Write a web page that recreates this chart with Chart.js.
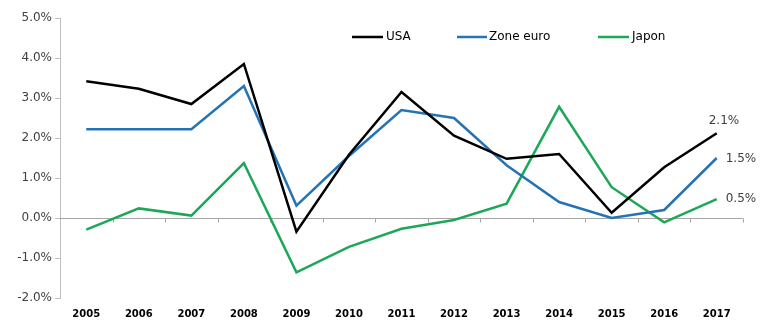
<!DOCTYPE html>
<html><head><meta charset="utf-8">
<script src="https://cdn.jsdelivr.net/npm/chart.js@4/dist/chart.umd.min.js"></script>
<style>html,body{margin:0;padding:0;background:#fff}#wrap{width:764px;height:320px;position:relative}</style>
</head><body><div id="wrap"><canvas id="c" width="764" height="320"></canvas></div>
<script>
const categories = ['2005','2006','2007','2008','2009','2010','2011','2012','2013','2014','2015','2016','2017'];
const usa =      [3.42, 3.23, 2.85, 3.85, -0.34, 1.58, 3.15, 2.06, 1.48, 1.60, 0.13, 1.27, 2.12];
const zoneEuro = [2.22, 2.22, 2.22, 3.30, 0.31, 1.55, 2.70, 2.50, 1.32, 0.40, 0.00, 0.20, 1.50];
const japon =    [-0.29, 0.24, 0.06, 1.37, -1.36, -0.72, -0.27, -0.05, 0.36, 2.78, 0.77, -0.11, 0.47];
const seriesNames = ['USA', 'Zone euro', 'Japon'];
const endLabels = ['2.1%', '1.5%', '0.5%'];
const yTicks = [-2, -1, 0, 1, 2, 3, 4, 5];

const colors = ['#000000', '#2474B5', '#1DA858'];
const FONT = '"DejaVu Sans", sans-serif';

const legendPlugin = {
  id: 'customLegend',
  afterDraw(chart) {
    const ctx = chart.ctx;
    const items = [{x1:352,x2:383,tx:386},{x1:457,x2:487,tx:489},{x1:598,x2:629,tx:632}];
    ctx.save();
    ctx.font = '12px ' + FONT;
    ctx.textBaseline = 'middle';
    ctx.fillStyle = '#000';
    chart.data.datasets.forEach((ds, i) => {
      const it = items[i];
      ctx.strokeStyle = ds.borderColor;
      ctx.lineWidth = 2.5;
      ctx.beginPath(); ctx.moveTo(it.x1, 37); ctx.lineTo(it.x2, 37); ctx.stroke();
      ctx.fillText(ds.label, it.tx, 37);
    });
    ctx.restore();
  }
};

const endLabelPlugin = {
  id: 'endLabels',
  afterDatasetsDraw(chart) {
    const ctx = chart.ctx;
    const offs = [{dx:-8, dy:-12},{dx:9, dy:1},{dx:9, dy:0}];
    ctx.save();
    ctx.font = '12px ' + FONT;
    ctx.fillStyle = '#404040';
    ctx.textBaseline = 'middle';
    chart.data.datasets.forEach((ds, i) => {
      const meta = chart.getDatasetMeta(i);
      const p = meta.data[meta.data.length - 1];
      ctx.fillText(endLabels[i], p.x + offs[i].dx, p.y + offs[i].dy);
    });
    ctx.restore();
  }
};

const zeroAxisPlugin = {
  id: 'zeroAxis',
  beforeDatasetsDraw(chart) {
    const ctx = chart.ctx;
    const ys = chart.scales.y;
    const y0 = Math.round(ys.getPixelForValue(0)) + 0.5;
    ctx.save();
    ctx.strokeStyle = '#a6a6a6';
    ctx.lineWidth = 1;
    ctx.beginPath();
    ctx.moveTo(chart.chartArea.left, y0); ctx.lineTo(chart.chartArea.right, y0);
    const n = categories.length;
    const w = (chart.chartArea.right - chart.chartArea.left) / n;
    for (let k = 1; k <= n; k++) {
      const x = Math.round(chart.chartArea.left + k * w) + 0.5;
      ctx.moveTo(x, y0); ctx.lineTo(x, y0 + 4);
    }
    ctx.stroke();
    ctx.restore();
  }
};

new Chart(document.getElementById('c'), {
  type: 'line',
  data: {
    labels: categories,
    datasets: [
      {label: seriesNames[0], data: usa, borderColor: colors[0]},
      {label: seriesNames[1], data: zoneEuro, borderColor: colors[1]},
      {label: seriesNames[2], data: japon, borderColor: colors[2]}
    ].map(d => Object.assign(d, {borderWidth: 2.5, pointRadius: 0, tension: 0, fill: false}))
  },
  options: {
    responsive: false,
    animation: false,
    layout: {padding: {top: 18, right: 21, left: 0, bottom: 0}},
    plugins: {legend: {display: false}, tooltip: {enabled: false}},
    scales: {
      x: {
        offset: true,
        grid: {display: false, drawTicks: false, tickLength: 0},
        border: {display: false},
        ticks: {padding: 10, color: '#000', font: {family: FONT, size: 10, weight: 'bold'}, maxRotation: 0, autoSkip: false},
        afterFit(s) { s.height = 22; }
      },
      y: {
        min: -2, max: 5,
        afterBuildTicks(s) { s.ticks = yTicks.map(v => ({value: v})); },
        grid: {drawOnChartArea: false, drawTicks: true, tickLength: 5, color: '#bfbfbf'},
        border: {color: '#bfbfbf'},
        ticks: {padding: 3, color: '#404040', font: {family: FONT, size: 12}, callback: v => v.toFixed(1) + '%'},
        afterFit(s) { s.width = 60; }
      }
    }
  },
  plugins: [zeroAxisPlugin, legendPlugin, endLabelPlugin]
});
</script>
</body></html>
